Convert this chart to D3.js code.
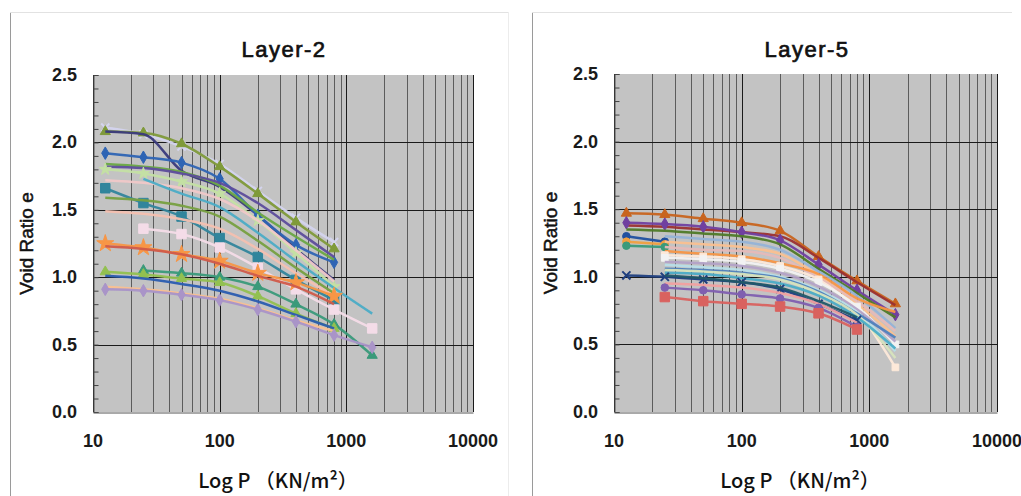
<!DOCTYPE html>
<html><head><meta charset="utf-8">
<script src="https://cdn.jsdelivr.net/npm/d3@7"></script>
<style>body{margin:0;background:#fff}svg{display:block}</style>
</head><body>
<svg id="c" width="1021" height="496"></svg>
<script>
// ---------- data ----------
const loads = [12.5, 25, 50, 100, 200, 400, 800, 1600];
const xTickValues = [10, 100, 1000, 10000];
const xTickLabels = ["10", "100", "1000", "10000"];
const yTickValues = [0, 0.5, 1.0, 1.5, 2.0, 2.5];
const yTickLabels = ["0.0", "0.5", "1.0", "1.5", "2.0", "2.5"];
const chartTitles = ["Layer-2", "Layer-5"];

const layer2Values = [
  [2.11, 2.06, 1.97, 1.84, 1.64, 1.44, 1.26, null],
  [2.08, 2.07, 1.99, 1.82, 1.62, 1.41, 1.21, null],
  [2.08, 2.06, 1.79, 1.67, 1.46, 1.21, 0.98, null],
  [1.92, 1.89, 1.85, 1.73, 1.46, 1.24, 1.11, null],
  [1.84, 1.82, 1.78, 1.68, 1.48, 1.30, 1.13, null],
  [1.82, 1.81, 1.77, 1.70, 1.55, 1.35, 1.15, null],
  [1.80, 1.77, 1.71, 1.62, 1.42, 1.18, 0.93, null],
  [1.72, 1.70, 1.66, 1.58, 1.42, 1.20, 0.97, null],
  [null, 1.73, 1.62, 1.52, 1.33, 1.12, 0.92, 0.73],
  [1.66, 1.55, 1.45, 1.29, 1.15, 0.98, 0.83, null],
  [1.59, 1.57, 1.53, 1.45, 1.27, 1.07, 0.88, null],
  [1.49, 1.47, 1.43, 1.36, 1.21, 1.03, 0.86, null],
  [null, 1.36, 1.32, 1.22, 1.07, 0.91, 0.76, 0.62],
  [1.25, 1.22, 1.17, 1.12, 1.03, 0.96, 0.86, null],
  [1.23, 1.21, 1.17, 1.10, 1.01, 0.93, 0.80, null],
  [null, 1.05, 1.03, 1.00, 0.93, 0.80, 0.65, 0.42],
  [1.04, 1.02, 0.99, 0.96, 0.86, 0.73, 0.62, null],
  [1.01, 0.99, 0.95, 0.90, 0.82, 0.72, 0.62, null],
  [0.93, 0.91, 0.88, 0.84, 0.77, 0.68, 0.60, null],
  [0.91, 0.90, 0.87, 0.83, 0.76, 0.67, 0.57, 0.48]
];
const layer2Colors = ["#d4d4ee", "#7f9a3a", "#3a3a7c", "#2e64b4", "#6aa845", "#5d4c9c",
  "#c4e0a4", "#f0c8c8", "#4bacc6", "#31859c", "#77a040", "#f4c0b0", "#f4dce8",
  "#f79646", "#d05a4a", "#3a9a7a", "#92c050", "#2a5cb0", "#fac090", "#a994c8"];
const layer2Markers = ["times", "triangle", "none", "diamond", "none", "none", "star",
  "none", "none", "square", "none", "none", "square", "star", "none", "triangle",
  "triangle", "none", "none", "diamond"];

const layer5Values = [
  [1.47, 1.46, 1.43, 1.40, 1.34, 1.15, 0.97, 0.80],
  [1.38, 1.37, 1.35, 1.33, 1.30, 1.14, 0.96, 0.79],
  [1.40, 1.39, 1.37, 1.33, 1.27, 1.09, 0.90, 0.72],
  [1.35, 1.34, 1.32, 1.30, 1.24, 1.06, 0.88, 0.70],
  [1.30, 1.26, null, null, null, null, null, null],
  [1.26, 1.24, null, null, null, null, null, null],
  [1.23, 1.22, null, null, null, null, null, null],
  [null, 1.30, 1.28, 1.26, 1.20, 1.04, 0.86, 0.62],
  [null, 1.26, 1.24, 1.22, 1.17, 1.01, 0.80, 0.56],
  [null, 1.22, 1.20, 1.19, 1.14, 0.99, 0.82, 0.60],
  [null, 1.19, 1.17, 1.15, 1.10, 1.02, 0.84, 0.74],
  [null, 1.16, 1.15, 1.13, 1.08, 0.98, 0.75, 0.33],
  [null, 1.14, 1.13, 1.11, 1.06, 0.96, 0.78, 0.50],
  [null, 1.11, 1.10, 1.08, 1.03, 0.93, 0.76, 0.52],
  [null, 1.09, 1.07, 1.05, 1.00, 0.90, 0.74, 0.45],
  [null, 1.06, 1.05, 1.03, 0.99, 0.89, 0.73, 0.55],
  [null, 1.05, 1.04, 1.02, 0.98, 0.88, 0.72, 0.40],
  [null, 1.03, 1.02, 0.99, 0.95, 0.86, 0.70, 0.47],
  [1.01, 1.00, 0.98, 0.96, 0.91, 0.80, 0.68, null],
  [null, 1.01, 0.99, 0.96, 0.92, 0.82, 0.70, null],
  [null, 0.95, 0.94, 0.92, 0.88, 0.80, 0.66, null],
  [null, 0.92, 0.90, 0.87, 0.84, 0.77, 0.63, null],
  [null, 0.85, 0.82, 0.80, 0.78, 0.73, 0.61, null]
];
const layer5Colors = ["#c8641e", "#9b3030", "#7040a0", "#4f7a28", "#2050a0", "#f0a040",
  "#3a9a7a", "#95b3d7", "#fac090", "#e6b9b8", "#f79646", "#fde9d9", "#f2f2f2",
  "#b3a2c7", "#b7dee8", "#4f81bd", "#d7e4bd", "#4bacc6", "#1f3f7f", "#215968",
  "#f2a0a0", "#7f5fb0", "#d9625f"];
const layer5Markers = ["triangle", "none", "diamond", "none", "circle", "circle", "circle",
  "none", "none", "none", "none", "square", "square", "none", "none", "none", "none",
  "none", "times", "none", "none", "circle", "square"];

// ---------- drawing ----------
const svg = d3.select("#c");
const FONT = "'Liberation Sans', Arial, sans-serif";

// panel frames
svg.append("line").attr("x1", 10.5).attr("x2", 10.5).attr("y1", 12).attr("y2", 496).attr("stroke", "#9a9a9a");
svg.append("line").attr("x1", 10).attr("x2", 508).attr("y1", 12.5).attr("y2", 12.5).attr("stroke", "#e2e2e2");
svg.append("line").attr("x1", 508.5).attr("x2", 508.5).attr("y1", 12).attr("y2", 496).attr("stroke", "#ececec");
svg.append("line").attr("x1", 532.5).attr("x2", 532.5).attr("y1", 12).attr("y2", 496).attr("stroke", "#9a9a9a");
svg.append("line").attr("x1", 532).attr("x2", 1012).attr("y1", 12.5).attr("y2", 12.5).attr("stroke", "#e2e2e2");

const symbolTypes = {
  diamond: d3.symbolDiamond, square: d3.symbolSquare, triangle: d3.symbolTriangle,
  circle: d3.symbolCircle, star: d3.symbolStar, times: d3.symbolTimes
};

function drawChart(cfg) {
  const g = svg.append("g");
  const x = d3.scaleLog().domain([10, 10000]).range([cfg.x0, cfg.x1]);
  const y = d3.scaleLinear().domain([0, 2.5]).range([cfg.y1, cfg.y0]);

  g.append("rect").attr("x", cfg.x0).attr("y", cfg.y0)
    .attr("width", cfg.x1 - cfg.x0).attr("height", cfg.y1 - cfg.y0)
    .attr("fill", "#c3c3c3");

  // vertical grid lines (log minor + major)
  const vt = [];
  [10, 100, 1000].forEach(d => { for (let k = 1; k <= 9; k++) vt.push(d * k); });
  vt.push(10000);
  g.selectAll(".vg").data(vt).enter().append("line")
    .attr("x1", d => Math.round(x(d)) + 0.5).attr("x2", d => Math.round(x(d)) + 0.5)
    .attr("y1", cfg.y0).attr("y2", cfg.y1)
    .attr("stroke", d => (Math.log10(d) % 1 === 0) ? "#1a1a1a" : "#5c5c5c")
    .attr("stroke-width", 1);

  // horizontal grid
  g.selectAll(".hg").data([0.5, 1.0, 1.5, 2.0]).enter().append("line")
    .attr("x1", cfg.x0).attr("x2", cfg.x1)
    .attr("y1", d => Math.round(y(d)) + 0.5).attr("y2", d => Math.round(y(d)) + 0.5)
    .attr("stroke", "#1a1a1a");

  // y axis with minor ticks inward
  const yAxis = d3.axisLeft(y).tickValues(d3.range(0, 26).map(i => i / 10))
    .tickSize(-5).tickFormat("");
  const ya = g.append("g").attr("transform", `translate(${cfg.x0 + 0.5},0)`).call(yAxis);
  ya.select(".domain").attr("stroke", "#555");
  ya.selectAll(".tick line").attr("stroke", "#444");

  // x axis baseline
  const xAxis = d3.axisBottom(x).tickValues(vt).tickSize(0).tickFormat("");
  const xa = g.append("g").attr("transform", `translate(0,${cfg.y1 + 0.5})`).call(xAxis);
  xa.select(".domain").attr("stroke", "#555");

  // tick labels
  g.selectAll(".yl").data(yTickValues).enter().append("text")
    .attr("x", cfg.x0 - 16).attr("y", d => y(d) + 6)
    .attr("text-anchor", "end").attr("font-family", FONT).attr("font-size", 18)
    .attr("font-weight", "bold").attr("fill", "#1a1a1a")
    .text((d, i) => yTickLabels[i]);
  g.selectAll(".xl").data(xTickValues).enter().append("text")
    .attr("x", d => x(d)).attr("y", cfg.y1 + 35)
    .attr("text-anchor", "middle").attr("font-family", FONT).attr("font-size", 18)
    .attr("font-weight", "bold").attr("fill", "#1a1a1a")
    .text((d, i) => xTickLabels[i]);

  // title & axis titles
  g.append("text").attr("x", cfg.titleX).attr("y", 57).attr("text-anchor", "middle")
    .attr("font-family", FONT).attr("font-size", 22)
    .attr("fill", "#111").attr("stroke", "#111").attr("stroke-width", 0.7)
    .attr("letter-spacing", 1.5)
    .text(cfg.title);
  g.append("text").attr("transform", `translate(${cfg.ylabX},${(cfg.y0 + cfg.y1) / 2}) rotate(-90)`)
    .attr("text-anchor", "middle").attr("font-family", FONT).attr("font-size", 19)
    .attr("fill", "#111").attr("stroke", "#111").attr("stroke-width", 0.5)
    .text("Void Ratio e");
  g.append("text").attr("x", cfg.xlabX).attr("y", 488).attr("text-anchor", "middle")
    .attr("font-family", "'Noto Sans CJK JP', 'Liberation Sans', sans-serif").attr("font-size", 20)
    .attr("font-weight", 500).attr("fill", "#111")
    .text("Log P （KN/m²）");

  // series
  const line = d3.line().defined(d => d.v !== null)
    .x(d => x(d.p)).y(d => y(d.v)).curve(d3.curveMonotoneX);
  const clip = "clip" + cfg.id;
  g.append("clipPath").attr("id", clip).append("rect")
    .attr("x", cfg.x0).attr("y", cfg.y0).attr("width", cfg.x1 - cfg.x0).attr("height", cfg.y1 - cfg.y0);
  const sg = g.append("g").attr("clip-path", `url(#${clip})`);
  cfg.values.forEach((vals, i) => {
    const pts = vals.map((v, j) => ({ p: loads[j], v: v }));
    sg.append("path").datum(pts).attr("d", line)
      .attr("fill", "none").attr("stroke", cfg.colors[i]).attr("stroke-width", 2.5)
      .attr("stroke-linejoin", "round").attr("opacity", 0.95);
    const m = cfg.markers[i];
    if (m !== "none") {
      const big = (cfg.colors[i] === "#f79646" || cfg.colors[i] === "#d9625f" || cfg.colors[i] === "#f4dce8" || cfg.colors[i] === "#31859c");
      const sym = d3.symbol().type(symbolTypes[m]).size(big ? 90 : 45);
      sg.selectAll(null).data(pts.filter(d => d.v !== null)).enter().append("path")
        .attr("d", sym)
        .attr("transform", d => `translate(${x(d.p)},${y(d.v)})`)
        .attr("fill", m === "times" ? "none" : cfg.colors[i])
        .attr("stroke", cfg.colors[i]).attr("stroke-width", m === "times" ? 2 : 1);
    }
  });
}

drawChart({ id: "L2", x0: 93, x1: 473, y0: 75, y1: 412, titleX: 284, ylabX: 33, xlabX: 278,
  title: chartTitles[0], values: layer2Values, colors: layer2Colors, markers: layer2Markers });
drawChart({ id: "L5", x0: 614, x1: 997, y0: 74, y1: 412, titleX: 807, ylabX: 557, xlabX: 800,
  title: chartTitles[1], values: layer5Values, colors: layer5Colors, markers: layer5Markers });
</script>
</body></html>
